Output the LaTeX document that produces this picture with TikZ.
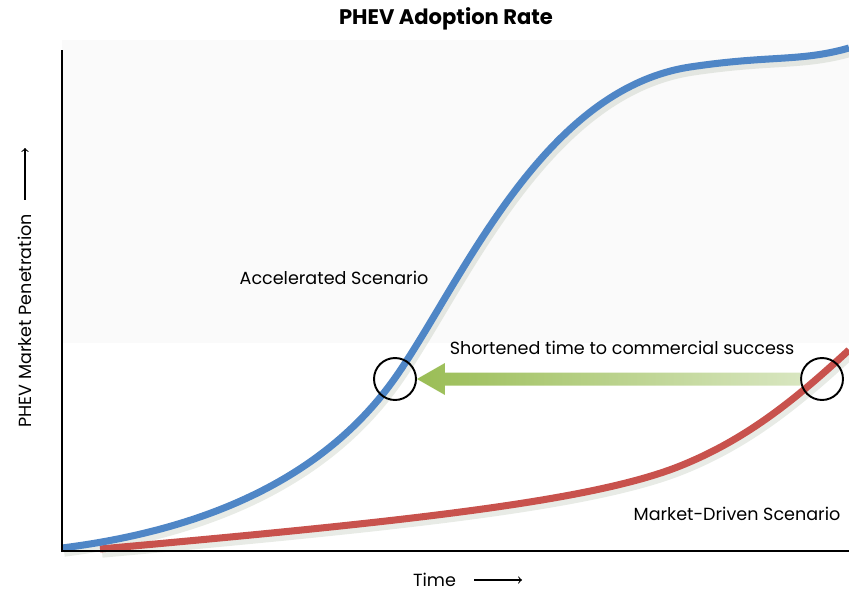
\documentclass[tikz,border=0pt]{standalone}
\usepackage{fontspec}
\setmainfont{Poppins}
\usetikzlibrary{calc}
\definecolor{accblue}{HTML}{4F86C6}
\definecolor{mktred}{HTML}{C8524D}
\definecolor{arrdark}{HTML}{9ABD55}
\definecolor{arrpale}{HTML}{D8E6C0}
\definecolor{shadowgreen}{HTML}{7E9072}
\begin{document}
\begin{tikzpicture}[x=0.02cm,y=-0.02cm,
    lbl/.style={font=\fontsize{10}{12}\selectfont},
    ring/.style={circle,draw,line width=1.1pt,minimum size=0.84cm,inner sep=0pt},
    curveshadow/.style={draw=shadowgreen,line width=5.5pt,opacity=0.18,
      transform canvas={shift={(1.2pt,-2.2pt)}}}]
  \useasboundingbox (0,0) rectangle (849,592);
  \fill[black!2] (62,40) rectangle (849,343);
  \path[save path=\redpath] (100,549) .. controls (400,522) and (590,502) .. (680,466)
    .. controls (750,438) and (800,395) .. (849,350);
  \path[save path=\bluepath] (62,548) .. controls (220,528) and (330,470) .. (395,378)
    .. controls (460,286) and (540,90) .. (690,67)
    .. controls (770,55) and (800,62) .. (849,48);
  \draw[curveshadow,use path=\redpath];
  \draw[curveshadow,use path=\bluepath];
  \draw[mktred,line width=4pt,use path=\redpath];
  \draw[accblue,line width=4pt,use path=\bluepath];
  \draw[line width=1.4pt] (62,50) -- (62,551) -- (849,551);
  \node[ring] (ca) at (395,379) {};
  \node[ring] (cb) at (822,379) {};
  \shade[left color=arrdark,right color=arrpale]
    (ca.east) -- ++(28,-16) -- ++(0,9.5) -- ($(cb.west)+(0,-6.5)$)
    -- ($(cb.west)+(0,6.5)$) -- ($(ca.east)+(28,6.5)$) -- ++(0,9.5) -- cycle;
  \node[font=\fontsize{12}{14}\selectfont\bfseries] (title) at (446,19) {PHEV Adoption Rate};
  \node[lbl] (accel) at (334,278) {Accelerated Scenario};
  \node[lbl] (market) at (737,514) {Market-Driven Scenario};
  \node[lbl] (short) at (622,348) {Shortened time to commercial success};
  \node[lbl,anchor=east,inner sep=1pt] (xlab) at (458,580) {Time};
  \node[lbl,rotate=90,anchor=west] (ylab) at (25,434) {PHEV Market Penetration};
  \coordinate (xend) at (522,580);
  \coordinate (yend) at (25,148);
  \draw[->,line width=0.6pt] ($(xlab.east)+(16,0)$) -- (xend);
  \draw[->,line width=0.6pt] ($(ylab.east)+(0,-8)$) -- (yend);
\end{tikzpicture}
\end{document}
